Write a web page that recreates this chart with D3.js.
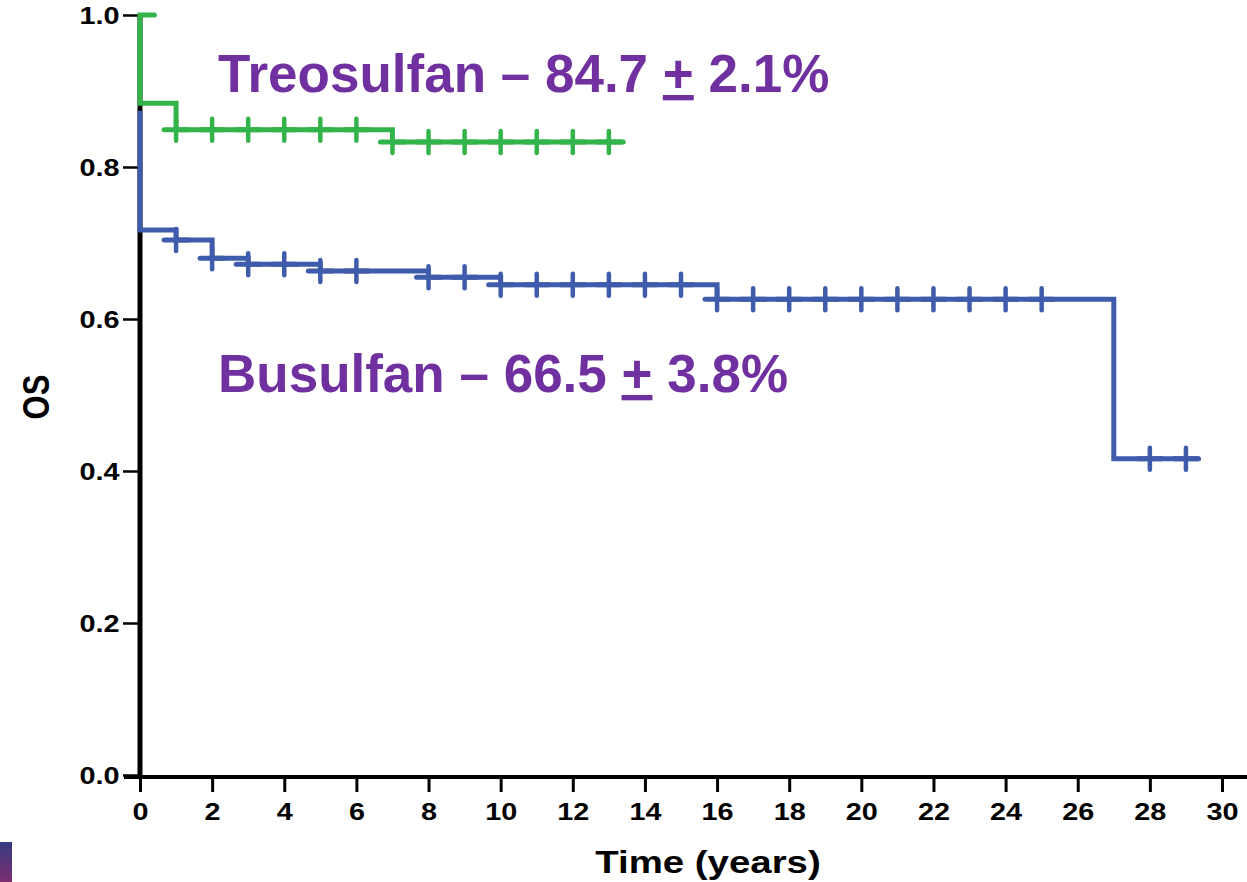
<!DOCTYPE html>
<html>
  <head>
    <meta charset="utf-8">
    <title>OS by conditioning</title>
    <script src="https://cdn.jsdelivr.net/npm/d3@7"></script>
    <style>
      html, body { margin: 0; padding: 0; background: #fff; }
      svg { display: block; }
    </style>
  </head>
  <body>
    <svg width="1247" height="882"></svg>
    <script>
      // Treosulfan (green) - step times and survival after each step
      var greenTop = 1.0;
      var greenCapEnd = 0.4;
      var greenTimes = [0, 1, 7];
      var greenSurv = [0.884, 0.849, 0.833];
      var greenEnd = 13.4;
      var greenCensor = [1, 2, 3, 4, 5, 6, 7, 8, 9, 10, 11, 12, 13];

      // Busulfan (blue)
      var blueTop = 0.871;
      var blueTimes = [0, 1, 2, 3, 5, 8, 10, 16, 27];
      var blueSurv = [0.717, 0.704, 0.680, 0.672, 0.663, 0.655, 0.645, 0.626, 0.416];
      var blueEnd = 29.35;
      var blueCensor = [1, 2, 3, 4, 5, 6, 8, 9, 10, 11, 12, 13, 14, 15, 16, 17, 18, 19, 20, 21, 22, 23, 24, 25, 28, 29];

      var xTicks = d3.range(0, 31, 2);
      var yTicks = [0, 0.2, 0.4, 0.6, 0.8, 1.0];

      var svg = d3.select("svg");
      var x = d3.scaleLinear().domain([0, 30]).range([140, 1222]);
      var y = d3.scaleLinear().domain([0, 1]).range([775, 15]);
      var stretch = "scale(1.2,1)";

      var green = "#33b44a", blue = "#3f5bab", purple = "#7030a0";

      // little slide corner
      var grad = svg.append("defs").append("linearGradient")
        .attr("id", "corner").attr("x1", 0).attr("y1", 0).attr("x2", 0).attr("y2", 1);
      grad.append("stop").attr("offset", 0).attr("stop-color", "#363a80");
      grad.append("stop").attr("offset", 1).attr("stop-color", "#7d2e70");
      svg.append("rect").attr("x", 0).attr("y", 842).attr("width", 12).attr("height", 40)
        .attr("fill", "url(#corner)");

      // x axis
      var gx = svg.append("g").attr("transform", "translate(0,777)")
        .call(d3.axisBottom(x).tickValues(xTicks).tickSize(15).tickFormat(d3.format("d")));
      gx.select(".domain").remove();
      gx.selectAll(".tick line").attr("stroke", "#000").attr("stroke-width", 3);
      gx.selectAll(".tick text")
        .attr("y", 43).attr("dy", null)
        .attr("transform", stretch)
        .attr("font-family", "'Liberation Sans', Arial, sans-serif")
        .attr("font-weight", "bold").attr("font-size", 24).attr("fill", "#000");
      svg.append("line").attr("x1", 124).attr("x2", 1247).attr("y1", 777).attr("y2", 777)
        .attr("stroke", "#000").attr("stroke-width", 4);

      // y axis
      var gy = svg.append("g").attr("transform", "translate(140,0)")
        .call(d3.axisLeft(y).tickValues(yTicks).tickSize(17).tickFormat(d3.format(".1f")));
      gy.select(".domain").remove();
      gy.selectAll(".tick line").attr("stroke", "#000").attr("stroke-width", 2.5);
      gy.selectAll(".tick text")
        .attr("x", -17).attr("dy", "0.36em")
        .attr("transform", stretch)
        .attr("font-family", "'Liberation Sans', Arial, sans-serif")
        .attr("font-weight", "bold").attr("font-size", 24).attr("fill", "#000");
      svg.append("line").attr("x1", 140).attr("x2", 140).attr("y1", y(1)).attr("y2", 779)
        .attr("stroke", "#000").attr("stroke-width", 5);

      // axis titles
      svg.append("text")
        .attr("transform", "translate(708,873) " + stretch)
        .attr("text-anchor", "middle")
        .attr("font-family", "'Liberation Sans', Arial, sans-serif")
        .attr("font-weight", "bold").attr("font-size", 32)
        .text("Time (years)");
      svg.append("text")
        .attr("transform", "translate(49,397) " + stretch + " rotate(-90)")
        .attr("text-anchor", "middle")
        .attr("font-family", "'Liberation Sans', Arial, sans-serif")
        .attr("font-weight", "bold").attr("font-size", 31)
        .text("OS");

      // step function helpers
      function stepPoints(times, surv, top, end, capEnd) {
        var pts = [];
        if (capEnd != null) pts.push([capEnd, top]);
        pts.push([0, top]);
        times.forEach(function (t, i) {
          var prev = i === 0 ? top : surv[i - 1];
          pts.push([t, prev]);
          pts.push([t, surv[i]]);
        });
        pts.push([end, surv[surv.length - 1]]);
        return pts;
      }
      function survAt(times, surv, t) {
        var s = surv[0];
        times.forEach(function (tt, i) { if (tt <= t) s = surv[i]; });
        return s;
      }
      var line = d3.line().x(function (d) { return x(d[0]); }).y(function (d) { return y(d[1]); });

      function drawCurve(times, surv, top, end, capEnd, censor, color) {
        var g = svg.append("g");
        g.append("path")
          .attr("d", line(stepPoints(times, surv, top, end, capEnd)))
          .attr("fill", "none").attr("stroke", color).attr("stroke-width", 5)
          .attr("stroke-linejoin", "miter").attr("stroke-linecap", "round");
        var marks = g.selectAll("g.cens").data(censor).enter().append("g")
          .attr("transform", function (t) {
            return "translate(" + x(t) + "," + y(survAt(times, surv, t)) + ")";
          });
        marks.append("line").attr("x1", 0).attr("x2", 0).attr("y1", -11).attr("y2", 11)
          .attr("stroke", color).attr("stroke-width", 4.5).attr("stroke-linecap", "round");
        marks.append("line").attr("x1", -12).attr("x2", 12).attr("y1", 0).attr("y2", 0)
          .attr("stroke", color).attr("stroke-width", 5).attr("stroke-linecap", "round");
      }

      drawCurve(blueTimes, blueSurv, blueTop, blueEnd, null, blueCensor, blue);
      drawCurve(greenTimes, greenSurv, greenTop, greenEnd, greenCapEnd, greenCensor, green);

      // annotations
      function note(yPos, name, est, se) {
        var t = svg.append("text")
          .attr("x", 218).attr("y", yPos)
          .attr("font-family", "'Liberation Sans', Arial, sans-serif")
          .attr("font-weight", "bold").attr("font-size", 53).attr("fill", purple);
        t.append("tspan").text(name + " \u2013 " + est + " ");
        t.append("tspan").style("text-decoration", "underline").text("+");
        t.append("tspan").text(" " + se + "%");
      }
      note(92, "Treosulfan", "84.7", "2.1");
      note(392, "Busulfan", "66.5", "3.8");
    </script>
  </body>
</html>
